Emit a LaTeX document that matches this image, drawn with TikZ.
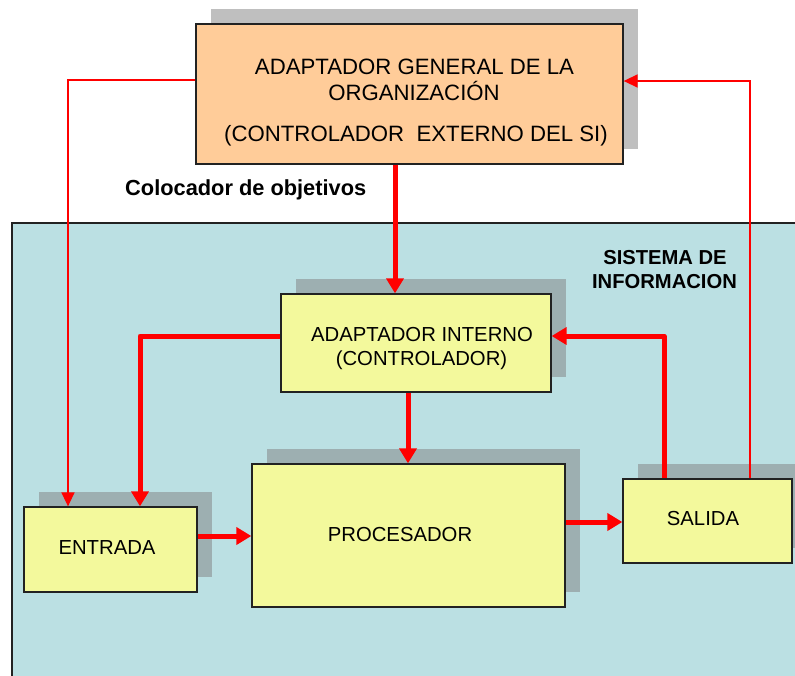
\documentclass[tikz,border=0pt]{standalone}
\usepackage{fontspec}
\setmainfont{Liberation Sans}
\usetikzlibrary{arrows.meta,shadows}
\definecolor{orangefill}{RGB}{255,204,153}
\definecolor{yellowfill}{RGB}{243,249,156}
\definecolor{bluefill}{RGB}{187,224,227}
\definecolor{arrowred}{RGB}{255,0,0}
\definecolor{boxline}{RGB}{34,34,34}
\begin{document}
\begin{tikzpicture}[x=1pt,y=-1pt,
  box/.style={draw=boxline, line width=1.3pt, rectangle, inner sep=0pt,
    drop shadow={shadow xshift=15pt, shadow yshift=15pt, fill=black!50, opacity=0.5}},
  ybox/.style={box, fill=yellowfill},
  boxtxt/.style={anchor=base, inner sep=0pt, font=\fontsize{20.3}{24.5}\selectfont},
  orgtxt/.style={anchor=base, inner sep=0pt, font=\fontsize{22.2}{26}\selectfont},
  boldtxt/.style={inner sep=0pt, font=\bfseries\fontsize{20.2}{24}\selectfont},
  thickarrow/.style={draw=arrowred, line width=5pt, line join=round,
    -{Triangle[width=17pt,length=15pt]}},
  thinarrow/.style={draw=arrowred, line width=1.5pt,
    -{Triangle[width=13pt,length=14pt]}}]
\useasboundingbox (0,0) rectangle (795,675);
\clip (0,0) rectangle (795,675);
% background of the information system
\fill[bluefill] (12,223) rectangle (840,700);
\draw[boxline, line width=1.3pt] (12,700) -- (12,223) -- (840,223);
% boxes
\node[box, fill=orangefill, minimum width=427pt, minimum height=140pt] (org) at (409.5,94) {};
\node[ybox, minimum width=270pt, minimum height=98pt] (ai) at (416,343) {};
\node[ybox, minimum width=313pt, minimum height=143pt] (proc) at (408.5,535.5) {};
\node[ybox, minimum width=173pt, minimum height=85pt] (ent) at (110.5,549.5) {};
\node[ybox, minimum width=169pt, minimum height=84pt] (sal) at (707.5,521) {};
% texts
\node[orgtxt] (og1) at (414.5,74) {ADAPTADOR GENERAL DE LA};
\node[orgtxt] (og2) at (414,100) {ORGANIZACIÓN};
\node[orgtxt] (og3) at (416,141.5) {(CONTROLADOR\ \ EXTERNO DEL SI)};
\node[boxtxt] (ai1) at (422,341) {ADAPTADOR INTERNO};
\node[boxtxt] (ai2) at (421.5,365.5) {(CONTROLADOR)};
\node[boxtxt] (proct) at (400,541) {PROCESADOR};
\node[boxtxt] (entt) at (107,554) {ENTRADA};
\node[boxtxt] (salt) at (703,525.5) {SALIDA};
\node[boldtxt, anchor=base west, font=\bfseries\fontsize{21.8}{26}\selectfont] (colo) at (125,195.5) {Colocador de objetivos};
\node[boldtxt, anchor=base] (si1) at (665,264) {SISTEMA DE};
\node[boldtxt, anchor=base] (si2) at (664.5,288) {INFORMACION};
% connector points
\coordinate (a1) at ([shift={(-14.5,0)}]org.south);
\coordinate (a2s) at ([shift={(0,-7)}]ai.west);
\coordinate (a2e) at ([shift={(29.5,0)}]ent.north);
\coordinate (a3) at ([shift={(-8,0)}]ai.south);
\coordinate (a4) at ([shift={(0,-13.5)}]ent.east);
\coordinate (a5) at ([shift={(0,-13.5)}]proc.east);
\coordinate (a6s) at ([shift={(-43.5,0)}]sal.north);
\coordinate (a6e) at ([shift={(0,-7)}]ai.east);
\coordinate (a7s) at ([shift={(0,-14)}]org.west);
\coordinate (a7e) at ([shift={(-42.5,0)}]ent.north);
\coordinate (a8s) at ([shift={(42.5,0)}]sal.north);
\coordinate (a8e) at ([shift={(0,-13)}]org.east);
% connectors
\draw[thickarrow] (a1) -- (a1 |- ai.north);
\draw[thickarrow] (a2s) -| (a2e);
\draw[thickarrow] (a3) -- (a3 |- proc.north);
\draw[thickarrow] (a4) -- (a4 -| proc.west);
\draw[thickarrow] (a5) -- (a5 -| sal.west);
\draw[thickarrow] (a6s) |- (a6e);
\draw[thinarrow] (a7s) -| (a7e);
\draw[thinarrow] (a8s) |- (a8e);
\end{tikzpicture}
\end{document}
